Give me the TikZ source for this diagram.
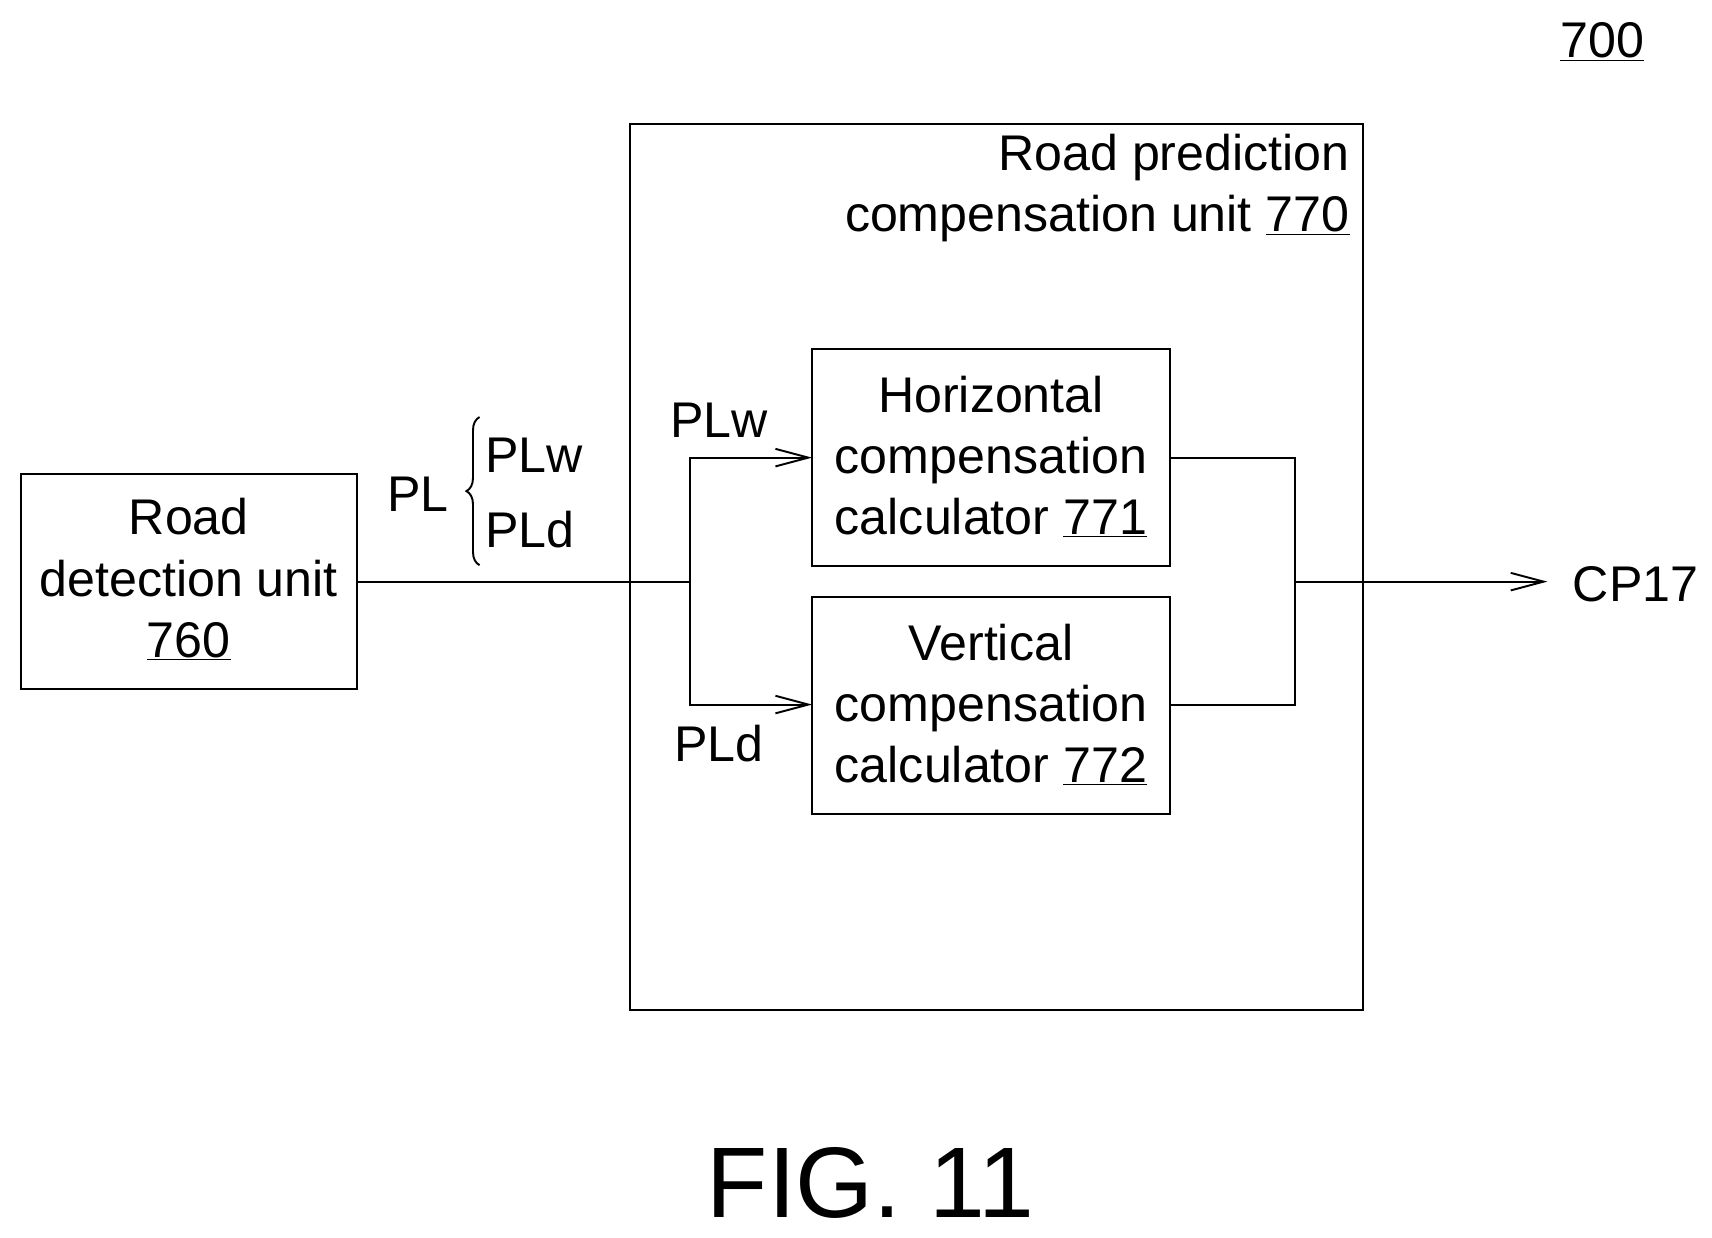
\documentclass[tikz,border=0pt]{standalone}
\usepackage{fontspec}
\setmainfont{Liberation Sans}
\usetikzlibrary{arrows.meta,decorations.pathreplacing}
\newcommand{\ul}[1]{\underline{#1}}
\begin{document}
\begin{tikzpicture}[x=0.03cm,y=-0.03cm,
  box/.style={draw,line width=1.6pt},
  txt/.style={font=\fontsize{39}{47.6}\selectfont,align=center,inner sep=0pt},
  wire/.style={line width=1.5pt},
  arr/.style={wire,-{Straight Barb[length=30*0.03cm,width=16*0.03cm,line width=1.5pt]}}]
\useasboundingbox (0,0) rectangle (1560,1128);
\node[txt] (n700) at (1460,38) {\ul{700}};
\draw[box] (574,113) rectangle (1242,920);
\node[txt,align=right,anchor=north east] (t770) at (1230,122) {Road prediction\\compensation unit \ul{770}};
\draw[box] (19,432) rectangle (325,628);
\node[txt] (b760) at (172,528) {Road\\detection unit\\\ul{760}};
\draw[box] (740,318) rectangle (1066,516);
\node[txt] (b771) at (903,416) {Horizontal\\compensation\\calculator \ul{771}};
\draw[box] (740,544) rectangle (1066,742);
\node[txt] (b772) at (903,642) {Vertical\\compensation\\calculator \ul{772}};
\coordinate (a) at (325,530);
\coordinate (s) at (629,530);
\coordinate (h) at (740,417);
\coordinate (v) at (740,642);
\coordinate (o) at (1180,530);
\coordinate (e) at (1410,530);
\draw[wire] (a) -- (s);
\draw[arr] (s) |- (h);
\draw[arr] (s) |- (v);
\draw[wire] (1066,417) -| (1180,642) -- (1066,642);
\draw[arr] (o) -- (e);
\node[txt,anchor=west] (cp) at (1433,532) {CP17};
\node[txt] (pl) at (381,450) {PL};
\draw[wire,decorate,decoration={brace,amplitude=12*0.03cm}] (437,515) -- (437,380);
\node[txt,anchor=west] (plw) at (442,415) {PLw};
\node[txt,anchor=west] (pld) at (442,483) {PLd};
\node[txt] (plw2) at (655,383) {PLw};
\node[txt] (pld2) at (655,678) {PLd};
\node[txt,font=\fontsize{78}{90}\selectfont] (fig) at (793,1078) {FIG. 11};
\end{tikzpicture}
\end{document}
